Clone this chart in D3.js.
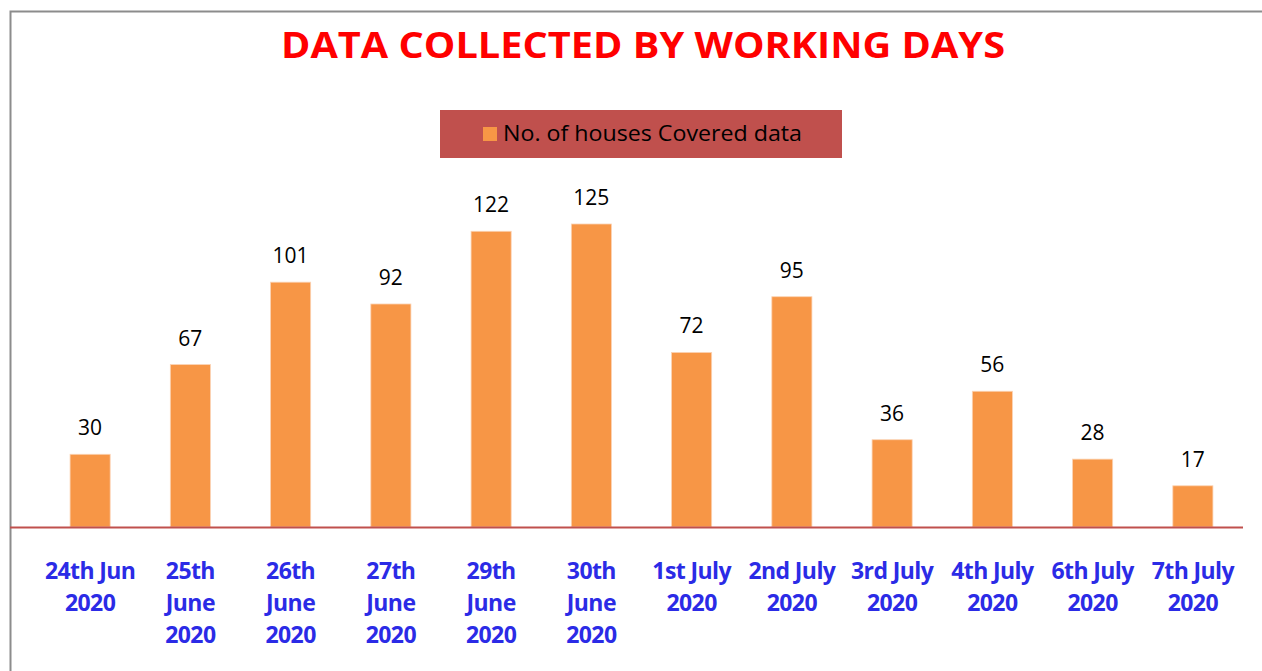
<!DOCTYPE html>
<html>
<head>
<meta charset="utf-8">
<script src="https://cdn.jsdelivr.net/npm/d3@7"></script>
<style>
  body { margin: 0; background: #fff; }
  svg { display: block; }
</style>
</head>
<body>
<div id="chart"><svg></svg></div>
<script>
// data
const days = ['24th Jun 2020', '25th June 2020', '26th June 2020', '27th June 2020', '29th June 2020',
  '30th June 2020', '1st July 2020', '2nd July 2020', '3rd July 2020', '4th July 2020', '6th July 2020', '7th July 2020']
const dayLines = [['24th Jun', '2020'], ['25th', 'June', '2020'], ['26th', 'June', '2020'], ['27th', 'June', '2020'],
  ['29th', 'June', '2020'], ['30th', 'June', '2020'], ['1st July', '2020'], ['2nd July', '2020'],
  ['3rd July', '2020'], ['4th July', '2020'], ['6th July', '2020'], ['7th July', '2020']]
const houses = [30, 67, 101, 92, 122, 125, 72, 95, 36, 56, 28, 17]
const seriesName = 'No. of houses Covered data'
const title = 'DATA COLLECTED BY WORKING DAYS'

const width = 1262
const height = 671
const font = "'Open Sans', 'Noto Sans', sans-serif"

const svg = d3.select('#chart svg')
  .attr('width', width)
  .attr('height', height)

// outer frame
svg.append('path')
  .attr('d', `M10.5,${height} V11.5 H${width}`)
  .attr('fill', 'none')
  .attr('stroke', '#8c8c8c')
  .attr('stroke-width', 2)

// title
svg.append('text')
  .attr('x', 643)
  .attr('y', 58)
  .attr('text-anchor', 'middle')
  .attr('font-family', font)
  .attr('font-weight', 'bold')
  .attr('font-size', 35)
  .attr('fill', '#ff0000')
  .attr('textLength', 724)
  .attr('lengthAdjust', 'spacingAndGlyphs')
  .text(title)

// legend
const legend = svg.append('g')
legend.append('rect')
  .attr('x', 440)
  .attr('y', 110)
  .attr('width', 402)
  .attr('height', 48)
  .attr('fill', '#c0504d')
legend.append('rect')
  .attr('x', 483)
  .attr('y', 127)
  .attr('width', 14)
  .attr('height', 14)
  .attr('fill', '#f79646')
legend.append('text')
  .attr('x', 503)
  .attr('y', 141)
  .attr('font-family', font)
  .attr('font-size', 21)
  .attr('fill', '#000')
  .attr('textLength', 299)
  .attr('lengthAdjust', 'spacingAndGlyphs')
  .text(seriesName)

// scales
const x = d3.scaleBand()
  .domain(days)
  .range([40, 1243])
  .paddingInner(0.6)
  .paddingOuter(0.3)

const y = d3.scaleLinear()
  .domain([0, 125])
  .range([527, 224])

// bars
svg.append('g')
  .selectAll('rect')
  .data(houses)
  .join('rect')
  .attr('x', (d, i) => x(days[i]))
  .attr('y', d => y(d))
  .attr('width', x.bandwidth())
  .attr('height', d => y(0) - y(d))
  .attr('fill', '#f79646')
  .attr('stroke', '#fbd3b4')
  .attr('stroke-width', 0.8)

// value labels
svg.append('g')
  .selectAll('text')
  .data(houses)
  .join('text')
  .attr('x', (d, i) => x(days[i]) + x.bandwidth() / 2)
  .attr('y', d => y(d) - 19)
  .attr('text-anchor', 'middle')
  .attr('font-family', font)
  .attr('font-size', 21)
  .attr('fill', '#000')
  .text(d => d)

// axis line
svg.append('line')
  .attr('x1', 10)
  .attr('x2', 1243)
  .attr('y1', y(0) + 0.5)
  .attr('y2', y(0) + 0.5)
  .attr('stroke', '#c0504d')
  .attr('stroke-width', 2)

// category labels
const labels = svg.append('g')
  .selectAll('text')
  .data(days)
  .join('text')
  .attr('x', d => x(d) + x.bandwidth() / 2)
  .attr('y', 579)
  .attr('text-anchor', 'middle')
  .attr('font-family', font)
  .attr('font-weight', 'bold')
  .attr('font-size', 23)
  .attr('fill', '#2b2be6')

labels.selectAll('tspan')
  .data((d, i) => dayLines[i])
  .join('tspan')
  .attr('x', function () { return d3.select(this.parentNode).attr('x') })
  .attr('dy', (d, i) => i === 0 ? 0 : 32)
  .attr('letter-spacing', -0.6)
  .text(d => d)
</script>
</body>
</html>
